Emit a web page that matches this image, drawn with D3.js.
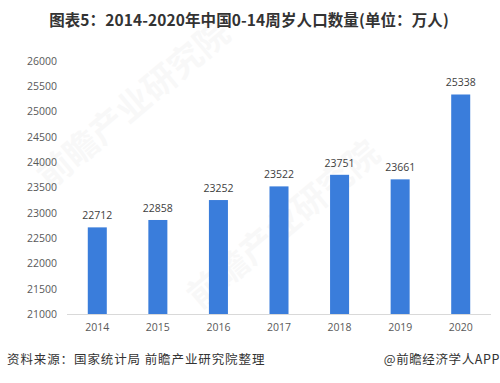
<!DOCTYPE html>
<html><head><meta charset="utf-8">
<script src="https://cdn.jsdelivr.net/npm/d3@7"></script>
<style>body{margin:0;background:#fff}svg{display:block}</style>
</head><body>
<svg id="c" width="500" height="383"></svg>
<script>
const years = ["2014","2015","2016","2017","2018","2019","2020"];
const values = [22712, 22858, 23252, 23522, 23751, 23661, 25338];
const yTicks = [21000,21500,22000,22500,23000,23500,24000,24500,25000,25500,26000];
const title = "图表5：2014-2020年中国0-14周岁人口数量(单位：万人)";
const source = "资料来源：国家统计局 前瞻产业研究院整理";
const credit = "@前瞻经济学人APP";

const svg = d3.select("#c");
const font = "'Microsoft YaHei','Noto Sans CJK SC',sans-serif";

// watermark
svg.append("text").attr("transform","translate(50,190) rotate(-40)")
  .attr("font-family",font).attr("font-size",34).attr("font-weight","bold")
  .attr("fill","#000").attr("opacity",0.022).text("前瞻产业研究院");
svg.append("text").attr("transform","translate(200,310) rotate(-40)")
  .attr("font-family",font).attr("font-size",34).attr("font-weight","bold")
  .attr("fill","#000").attr("opacity",0.022).text("前瞻产业研究院");

svg.append("text").attr("x",249).attr("y",26).attr("text-anchor","middle")
  .attr("font-family",font).attr("font-size",15.5).attr("font-weight","bold")
  .attr("fill","#333").attr("letter-spacing",0.1).text(title);

const x = d3.scaleBand().domain(years).range([67,491]).paddingInner(0.686).paddingOuter(0.343);
const y = d3.scaleLinear().domain([21000,26000]).range([314,61]);

const yAxis = svg.append("g").attr("transform","translate(57,0)")
  .call(d3.axisLeft(y).tickValues(yTicks).tickSize(0).tickPadding(0).tickFormat(d3.format("d")));
yAxis.select(".domain").remove();
yAxis.selectAll("text").attr("font-family","'Open Sans',sans-serif").attr("font-size",10.5).attr("fill","#595959");

svg.append("line").attr("x1",67).attr("x2",491).attr("y1",314.5).attr("y2",314.5)
  .attr("stroke","#d9d9d9").attr("stroke-width",1);

svg.selectAll("rect.bar").data(values).join("rect").attr("class","bar")
  .attr("x",(d,i)=>x(years[i])).attr("width",x.bandwidth())
  .attr("y",d=>y(d)).attr("height",d=>y(21000)-y(d)).attr("fill","#3a7ddb");

svg.selectAll("text.lbl").data(values).join("text").attr("class","lbl")
  .attr("x",(d,i)=>x(years[i])+x.bandwidth()/2).attr("y",d=>y(d)-8)
  .attr("text-anchor","middle").attr("font-family","'Open Sans',sans-serif")
  .attr("font-size",10.5).attr("fill","#404040").text(d=>d);

const xAxis = svg.append("g").attr("transform","translate(0,314)")
  .call(d3.axisBottom(x).tickSize(0).tickPadding(10));
xAxis.select(".domain").remove();
xAxis.selectAll("text").attr("font-family","'Open Sans',sans-serif").attr("font-size",10.5).attr("fill","#595959");

svg.append("text").attr("x",7).attr("y",364).attr("font-family",font).attr("font-size",12.5)
  .attr("fill","#333").attr("letter-spacing",0.9).text(source);
svg.append("text").attr("x",500).attr("y",364).attr("text-anchor","end").attr("font-family",font).attr("font-size",12.5)
  .attr("fill","#333").attr("letter-spacing",0.6).text(credit);
</script>
</body></html>
